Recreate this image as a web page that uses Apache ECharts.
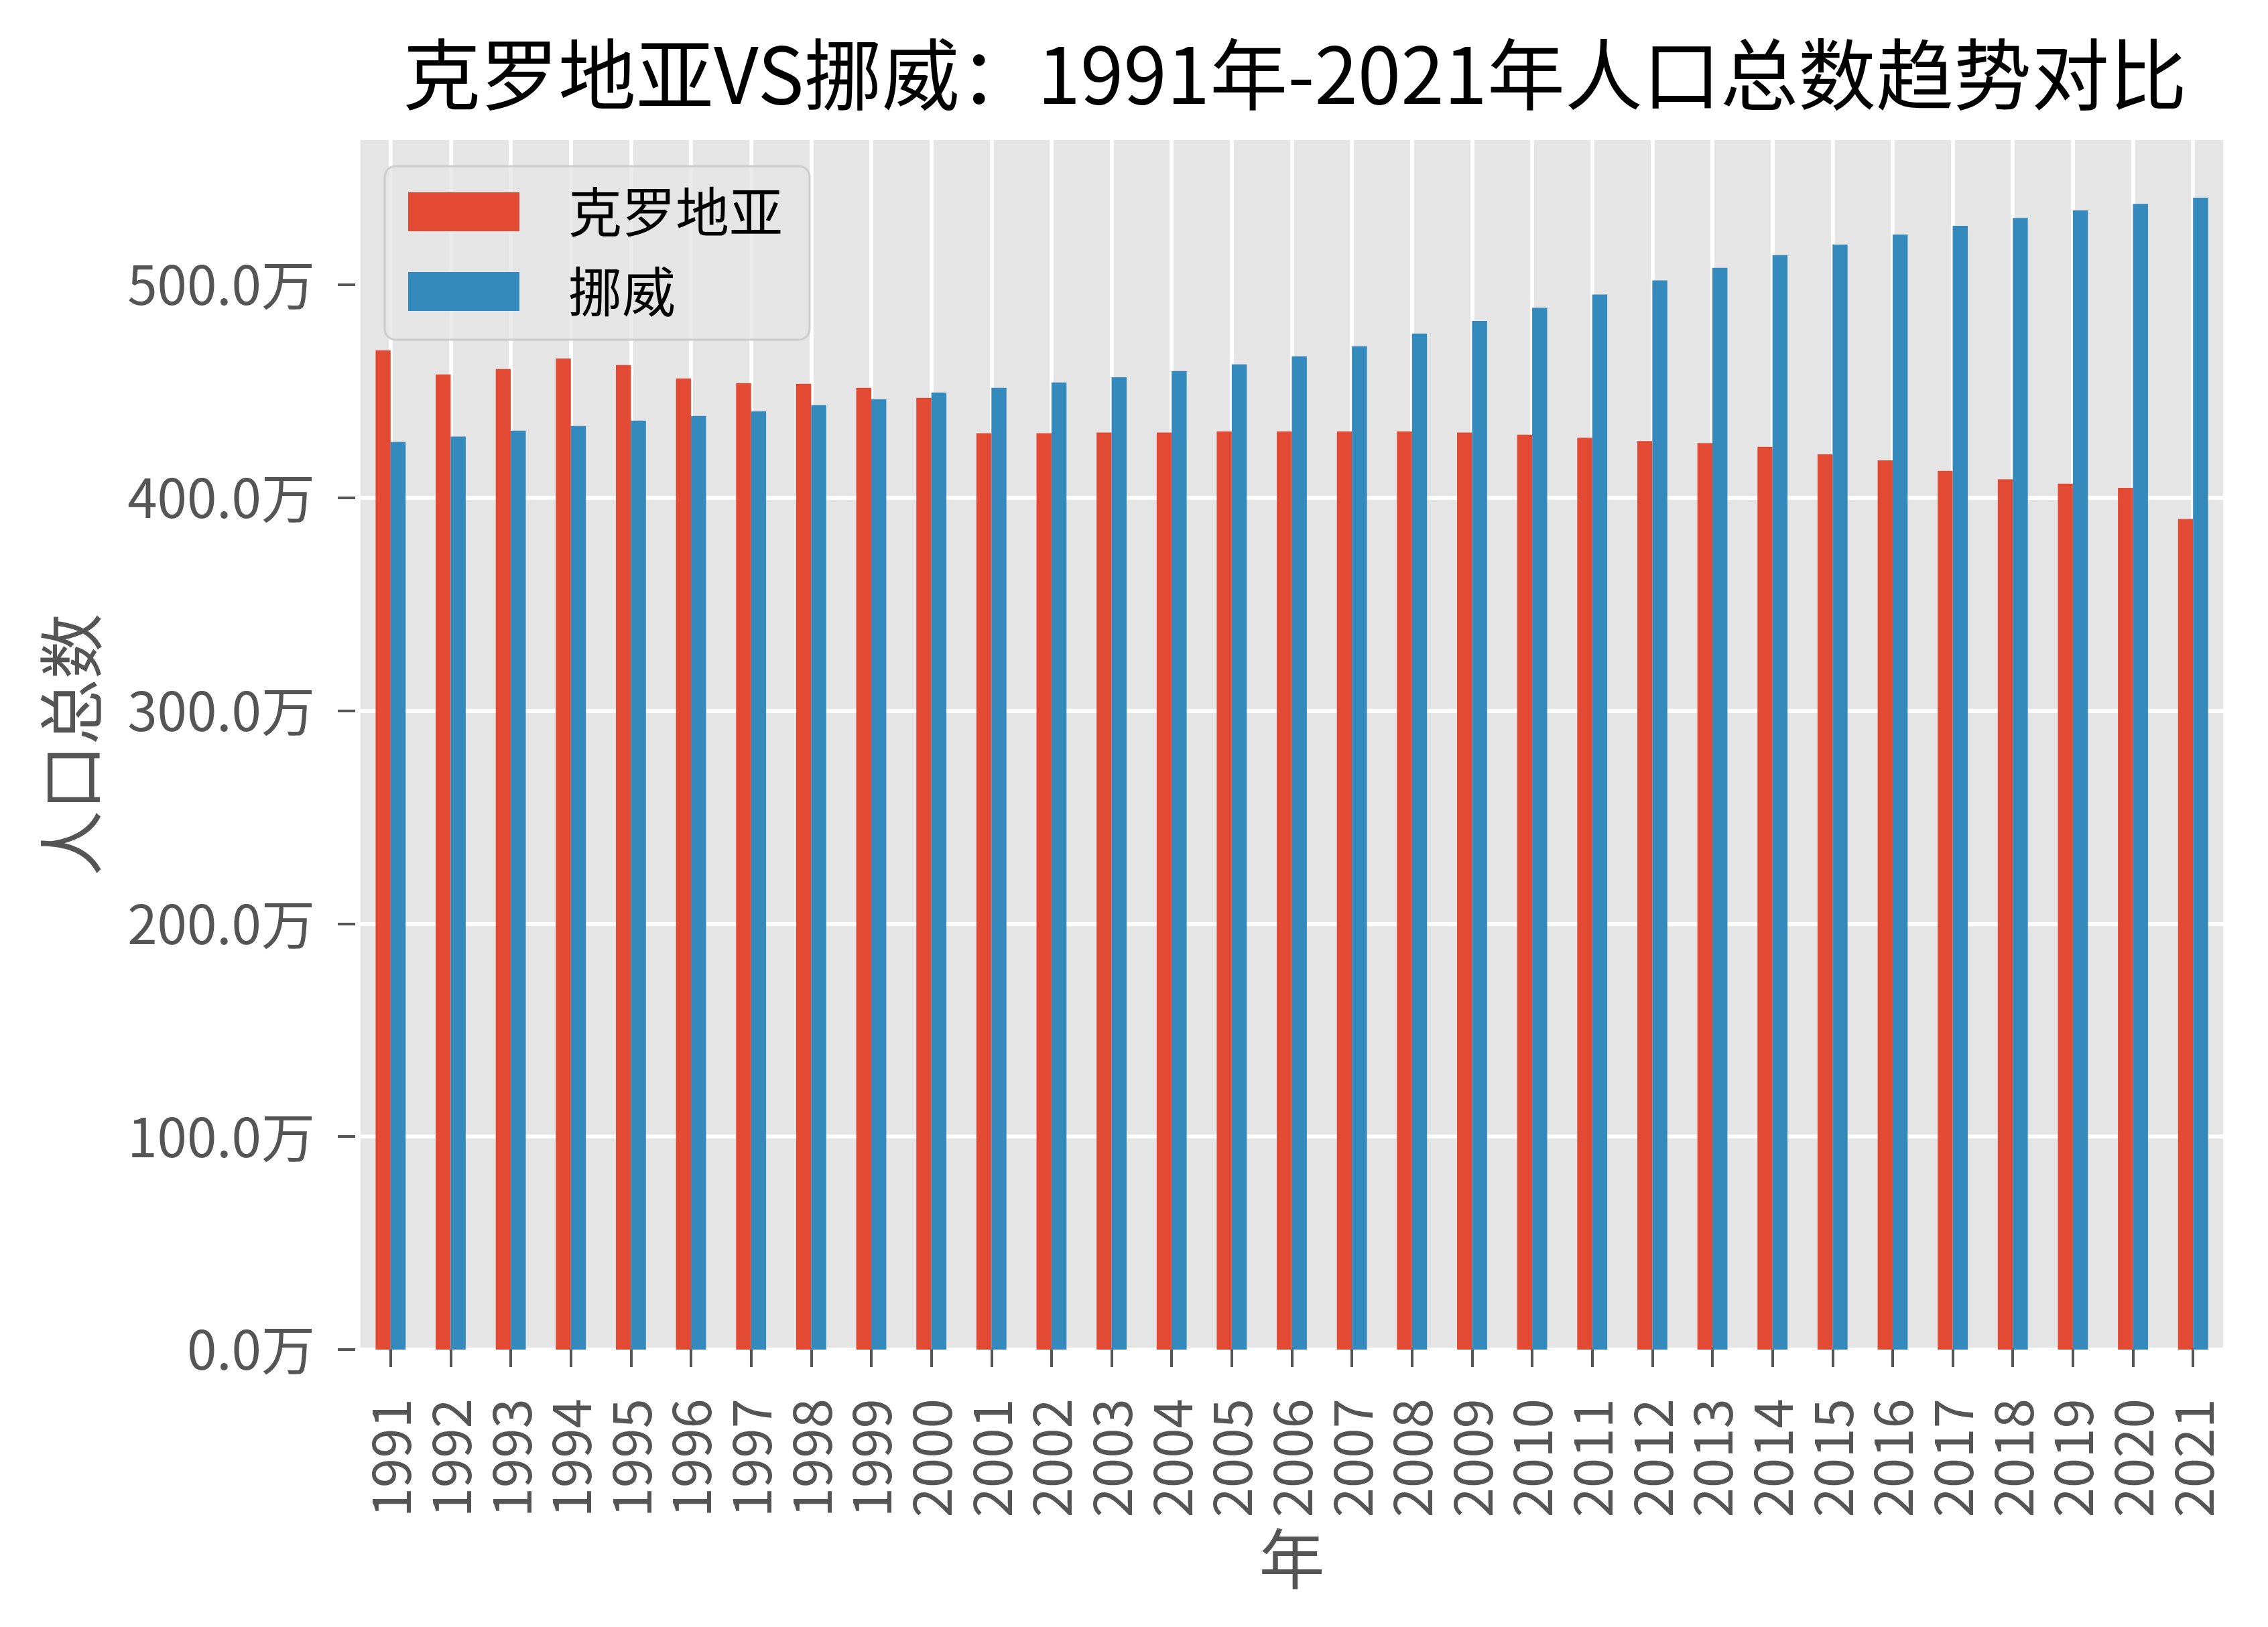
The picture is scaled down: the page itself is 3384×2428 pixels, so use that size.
<!DOCTYPE html>
<html>
<head>
<meta charset="utf-8">
<script src="https://cdn.jsdelivr.net/npm/echarts@6/dist/echarts.min.js"></script>
<style>
html,body{margin:0;padding:0;background:#fff;}
#chart{width:3384px;height:2428px;}
</style>
</head>
<body>
<div id="chart"></div>
<script>
const years = ['1991','1992','1993','1994','1995','1996','1997','1998','1999','2000','2001','2002','2003','2004','2005','2006','2007','2008','2009','2010','2011','2012','2013','2014','2015','2016','2017','2018','2019','2020','2021'];
const croatia = [469.1, 457.8, 460.3, 465.3, 462.2, 455.9, 453.7, 453.4, 451.5, 446.8, 430.2, 430.2, 430.5, 430.5, 431.1, 431.1, 431.1, 431.1, 430.5, 429.5, 428.1, 426.5, 425.6, 423.8, 420.3, 417.5, 412.5, 408.6, 406.5, 404.6, 389.9];
const norway = [426.1, 428.6, 431.4, 433.6, 436.1, 438.3, 440.5, 443.4, 446.2, 449.3, 451.5, 454.0, 456.5, 459.4, 462.5, 466.3, 471.0, 477.0, 482.9, 489.1, 495.3, 501.9, 507.8, 513.8, 518.8, 523.5, 527.6, 531.3, 534.8, 537.9, 540.8];
const seriesNames = ['克罗地亚', '挪威'];
const yTicks = [0, 100, 200, 300, 400, 500];
const titleText = '克罗地亚VS挪威：1991年-2021年人口总数趋势对比';

const FONT = '"Noto Sans CJK SC", "Noto Sans", sans-serif';
const chart = echarts.init(document.getElementById('chart'));
const yMax = Math.max(...croatia, ...norway) * 1.05;

chart.setOption({
  animation: false,
  backgroundColor: '#ffffff',
  title: {
    text: titleText,
    left: 1927,
    textAlign: 'center',
    top: 48,
    textStyle: { fontFamily: FONT, fontSize: 116, fontWeight: 'normal', color: '#000000' }
  },
  legend: {
    orient: 'vertical',
    left: 574,
    top: 248,
    padding: [28, 40, 32, 35],
    itemWidth: 166,
    itemHeight: 58,
    itemGap: 39,
    icon: 'rect',
    backgroundColor: 'rgba(229,229,229,0.8)',
    borderColor: '#CCCCCC',
    borderWidth: 3,
    borderRadius: 16,
    textStyle: { fontFamily: FONT, fontSize: 80, lineHeight: 80, color: '#000000', padding: [0, 0, 0, 68] },
    data: seriesNames
  },
  grid: {
    left: 538, right: 67, top: 209, bottom: 414,
    show: true, backgroundColor: '#E5E5E5', borderWidth: 0,
    containLabel: false
  },
  xAxis: {
    type: 'category',
    data: years,
    offset: 8,
    name: '年',
    nameLocation: 'middle',
    nameGap: 255,
    nameTextStyle: { fontFamily: FONT, fontSize: 98, color: '#555555' },
    axisLine: { show: false },
    axisTick: { show: true, alignWithLabel: true, length: 26, lineStyle: { color: '#555555', width: 4 } },
    axisLabel: { interval: 0, rotate: 90, margin: 65, fontFamily: FONT, fontSize: 80, color: '#555555' },
    splitLine: { show: true, alignWithLabel: true, lineStyle: { color: '#ffffff', width: 6 } }
  },
  yAxis: {
    type: 'value',
    min: 0,
    max: yMax,
    interval: 100,
    offset: 8,
    name: '人口总数',
    nameLocation: 'middle',
    nameGap: 375,
    nameTextStyle: { fontFamily: FONT, fontSize: 98, color: '#555555' },
    axisLine: { show: false },
    axisTick: { show: true, length: 26, customValues: yTicks, lineStyle: { color: '#555555', width: 4 } },
    axisLabel: {
      margin: 60, fontFamily: FONT, fontSize: 80, color: '#555555',
      customValues: yTicks,
      formatter: v => v.toFixed(1) + '万'
    },
    splitLine: { show: true, showMaxLine: false, lineStyle: { color: '#ffffff', width: 6 } }
  },
  series: [
    { name: seriesNames[0], type: 'bar', data: croatia, barWidth: '25%', barGap: '0%', itemStyle: { color: '#E24A33' } },
    { name: seriesNames[1], type: 'bar', data: norway, barWidth: '25%', barGap: '0%', itemStyle: { color: '#348ABD' } }
  ]
});
</script>
</body>
</html>
